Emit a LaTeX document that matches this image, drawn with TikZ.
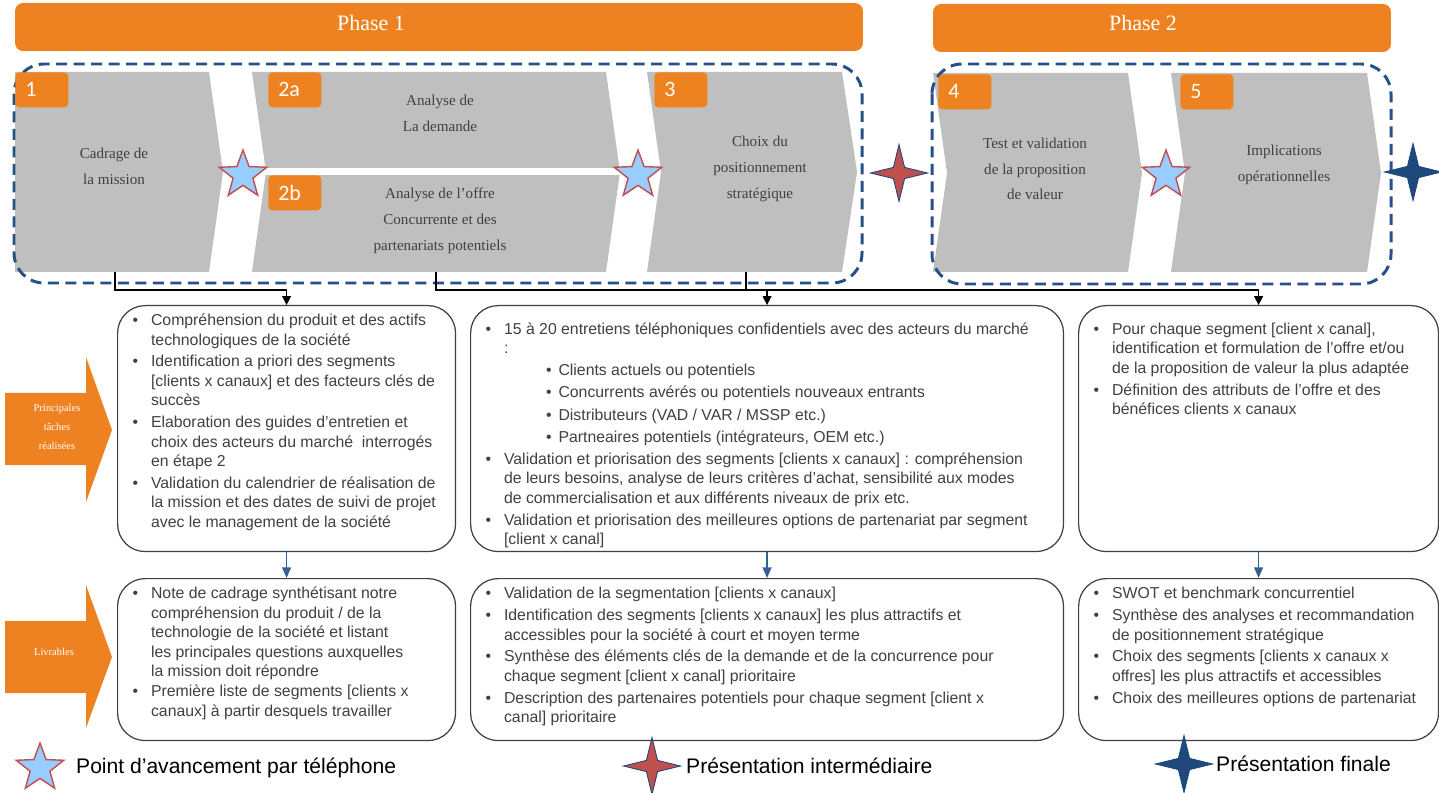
\documentclass[tikz,border=0pt]{standalone}
\usepackage{fontspec}
\setmainfont{Liberation Sans}
\newfontfamily\chevfont{Liberation Serif}
\newfontfamily\numfont{Carlito}
\usetikzlibrary{shapes.geometric,arrows.meta}
\definecolor{orangeph}{RGB}{239,130,32}
\definecolor{grischev}{RGB}{191,191,191}
\definecolor{bleupointille}{RGB}{38,80,135}
\definecolor{gristexte}{RGB}{64,64,64}
\definecolor{bleuclair}{RGB}{153,204,255}
\definecolor{rougeet}{RGB}{192,80,77}
\definecolor{bleufonce}{RGB}{31,73,125}
\definecolor{bleufleche}{RGB}{54,96,146}
\newcommand{\puce}[1]{\par\hangindent=10.5pt\hangafter=1\noindent\makebox[10.5pt][l]{\textbullet}\rule{0pt}{8.5pt}#1\par}
\newcommand{\souspuce}[1]{{\leftskip=34.5pt\hangindent=7pt\hangafter=1\noindent\makebox[7pt][l]{\textbullet}\rule{0pt}{8.5pt}#1\par}}

\begin{document}
\begin{tikzpicture}[x=0.02cm, y=-0.02cm,
		phasebar/.style={fill=orangeph, rounded corners=0.16cm, minimum height=0.96cm, inner sep=0},
		phasetitre/.style={text=white, font=\chevfont\fontsize{12.5}{15}\selectfont},
		chevron/.style={fill=grischev},
		groupe/.style={draw=bleupointille, line width=1.7pt, dash pattern=on 0.22cm off 0.13cm, rounded corners=0.6cm},
		numbox/.style={fill=orangeph, rounded corners=0.08cm, anchor=north west, minimum height=0.7cm, inner ysep=0, inner xsep=0.2cm, text width=0.66cm, align=left, text=white, font=\numfont\fontsize{12.5}{14}\selectfont},
		chevtexte/.style={align=center, text=gristexte, font=\chevfont\fontsize{8.6}{14.7}\selectfont},
		etoile/.style={star, star points=5, star point ratio=2.4, minimum size=1cm, inner sep=0, fill=bleuclair, draw=rougeet, line width=0.8pt},
		etoilequatre/.style={star, star points=4, star point ratio=3.6, minimum size=1.14cm, inner sep=0, draw=bleufonce, line width=0.5pt},
		lien/.style={line width=0.7pt},
		fleche/.style={lien, -{Triangle[width=5pt,length=5pt]}},
		flechebleue/.style={draw=bleufleche, line width=0.8pt, -{Triangle[width=5pt,length=6pt]}},
		tachebox/.style={draw=gristexte, line width=0.7pt, rounded corners=0.55cm, anchor=north west, inner xsep=0.3cm, inner ysep=0.1cm, text=gristexte, font=\fontsize{9}{11.1}\selectfont},
		flechetexte/.style={text=white, align=center, font=\chevfont\fontsize{6}{11}\selectfont},
		legende/.style={anchor=west, font=\fontsize{12}{14}\selectfont}
	]
	\useasboundingbox (0,0) rectangle (1439,793);

	\begin{scope}
		\node[phasebar, minimum width=16.96cm] (phaseun) at (439,27) {};
		\node[phasetitre] (titreun) at (371,23) {Phase 1};
		\node[phasebar, minimum width=9.16cm] (phasedeux) at (1162,28) {};
		\node[phasetitre] (titredeux) at (1143,23) {Phase 2};

		\fill[chevron] (15,72) -- (209,72) -- (223,172) -- (209,272) -- (15,272) -- cycle;
		\fill[chevron] (252,72) -- (606,72) -- (620,172) -- (606,272) -- (252,272) -- (266,172) -- cycle;
		\fill[white] (245,168) rectangle (630,175);
		\fill[chevron] (647,72) -- (842,72) -- (857,172) -- (842,272) -- (647,272) -- (661,172) -- cycle;
		\fill[chevron] (933,73) -- (1128,73) -- (1142,173) -- (1128,272) -- (933,272) -- (947,173) -- cycle;
		\fill[chevron] (1171,73) -- (1367,73) -- (1381,173) -- (1367,272) -- (1171,272) -- (1185,173) -- cycle;

		\draw[groupe] (14,64) rectangle (862,283);
		\draw[groupe] (932,64) rectangle (1391,284);

		\node[numbox] (numun) at (15,72) {1};
		\node[numbox] (numdeuxa) at (268,72) {2a};
		\node[numbox] (numdeuxb) at (268,175) {2b};
		\node[numbox] (numtrois) at (654,72) {3};
		\node[numbox] (numquatre) at (938,74) {4};
		\node[numbox] (numcinq) at (1180,74) {5};

		\node[chevtexte] (cadrage) at (114,166) {Cadrage de\\la mission};
		\node[chevtexte] (demande) at (440,113) {Analyse de\\La demande};
		\node[chevtexte] (offre) at (440,221) {Analyse de l’offre\\Concurrente et des\\partenariats potentiels};
		\node[chevtexte] (choix) at (760,169) {Choix du\\positionnement\\stratégique};
		\node[chevtexte] (test) at (1035,169) {Test et validation\\de la proposition\\de valeur};
		\node[chevtexte] (implic) at (1284,165) {Implications\\opérationnelles};

		\node[etoile] (etoileun) at (243,175) {};
		\node[etoile] (etoiledeux) at (638,175) {};
		\node[etoile] (etoiletrois) at (1166,175) {};
		\node[etoilequatre, fill=rougeet] (interun) at (899,173) {};
		\node[etoilequatre, fill=bleufonce] (finaleun) at (1413,172) {};
	\end{scope}

	\begin{scope}
		\fill[orangeph] (5,393) -- (86,393) -- (86,357) -- (112,430) -- (86,502) -- (86,465) -- (5,465) -- cycle;
		\node[flechetexte] (taches) at (57,427) {Principales\\tâches\\réalisées};
		\fill[orangeph] (5,621) -- (86,621) -- (86,585) -- (112,657) -- (86,728) -- (86,693) -- (5,693) -- cycle;
		\node[flechetexte] (livrables) at (54,652) {Livrables};

		\node[tachebox] (tacheun) at (117,305) {\parbox[c][4.72cm][t]{6.16cm}{\setlength{\parskip}{1.3pt}%
			\puce{Compréhension du produit et des actifs\newline technologiques de la société}
			\puce{Identification a priori des segments\newline [clients x canaux] et des facteurs clés de\newline succès}
			\puce{Elaboration des guides d’entretien et\newline choix des acteurs du marché~ interrogés\newline en étape 2}
			\puce{Validation du calendrier de réalisation de\newline la mission et des dates de suivi de projet\newline avec le management de la société}}};
		\node[tachebox] (tachedeux) at (470,305) {\parbox[c][4.72cm][t]{11.26cm}{\setlength{\parskip}{1.5pt}\vspace*{3.4pt}%
			\puce{15 à 20 entretiens téléphoniques confidentiels avec des acteurs du marché\newline :}
			\souspuce{Clients actuels ou potentiels}
			\souspuce{Concurrents avérés ou potentiels nouveaux entrants}
			\souspuce{Distributeurs (VAD / VAR / MSSP etc.)}
			\souspuce{Partneaires potentiels (intégrateurs, OEM etc.)}
			\puce{Validation et priorisation des segments [clients x canaux] : compréhension\newline de leurs besoins, analyse de leurs critères d’achat, sensibilité aux modes\newline de commercialisation et aux différents niveaux de prix etc.}
			\puce{Validation et priorisation des meilleures options de partenariat par segment\newline [client x canal]}}};
		\node[tachebox] (tachetrois) at (1078,305) {\parbox[c][4.72cm][t]{6.6cm}{\setlength{\parskip}{1.5pt}\vspace*{3.4pt}%
			\puce{Pour chaque segment [client x canal],\newline identification et formulation de l’offre et/ou\newline de la proposition de valeur la plus adaptée}
			\puce{Définition des attributs de l’offre et des\newline bénéfices clients x canaux}}};

		\node[tachebox] (livun) at (117,578) {\parbox[c][3.04cm][t]{6.16cm}{\setlength{\parskip}{0.5pt}%
			\puce{Note de cadrage synthétisant notre\newline compréhension du produit / de la\newline technologie de la société et listant\newline les principales questions auxquelles\newline la mission doit répondre}
			\puce{Première liste de segments [clients x\newline canaux] à partir desquels travailler}}};
		\node[tachebox] (livdeux) at (470,578) {\parbox[c][3.04cm][t]{11.26cm}{\setlength{\parskip}{1.4pt}%
			\puce{Validation de la segmentation [clients x canaux]}
			\puce{Identification des segments [clients x canaux] les plus attractifs et\newline accessibles pour la société à court et moyen terme}
			\puce{Synthèse des éléments clés de la demande et de la concurrence pour\newline chaque segment [client x canal] prioritaire}
			\puce{Description des partenaires potentiels pour chaque segment [client x\newline canal] prioritaire}}};
		\node[tachebox] (livtrois) at (1078,578) {\parbox[c][3.04cm][t]{6.6cm}{\setlength{\parskip}{1.4pt}%
			\puce{SWOT et benchmark concurrentiel}
			\puce{Synthèse des analyses et recommandation\newline de positionnement stratégique}
			\puce{Choix des segments [clients x canaux x\newline offres] les plus attractifs et accessibles}
			\puce{Choix des meilleures options de partenariat}}};

		\coordinate (rail) at (0,290);
		\coordinate (cadbas) at (115,272);
		\coordinate (offbas) at (436,272);
		\coordinate (posbas) at (746,272);
		\draw[fleche] (cadbas) -- (cadbas |- rail) -| (tacheun.north);
		\draw[fleche] (offbas) -- (offbas |- rail) -| (tachetrois.north);
		\draw[lien] (posbas) -- (posbas |- rail);
		\draw[fleche] (tachedeux.north |- rail) -- (tachedeux.north);

		\draw[flechebleue] (tacheun.south) -- (livun.north);
		\draw[flechebleue] (tachedeux.south) -- (livdeux.north);
		\draw[flechebleue] (tachetrois.south) -- (livtrois.north);
	\end{scope}

	\begin{scope}
		\node[etoile] (legun) at (40,768) {};
		\node[legende] (legtexteun) at (70,768) {Point d’avancement par téléphone};
		\node[etoilequatre, fill=rougeet] (legdeux) at (652,766) {};
		\node[legende] (legtextedeux) at (680,766) {Présentation intermédiaire};
		\node[etoilequatre, fill=bleufonce] (legtrois) at (1184,764) {};
		\node[legende] (legtextetrois) at (1210,764) {Présentation finale};
	\end{scope}
\end{tikzpicture}
\end{document}
